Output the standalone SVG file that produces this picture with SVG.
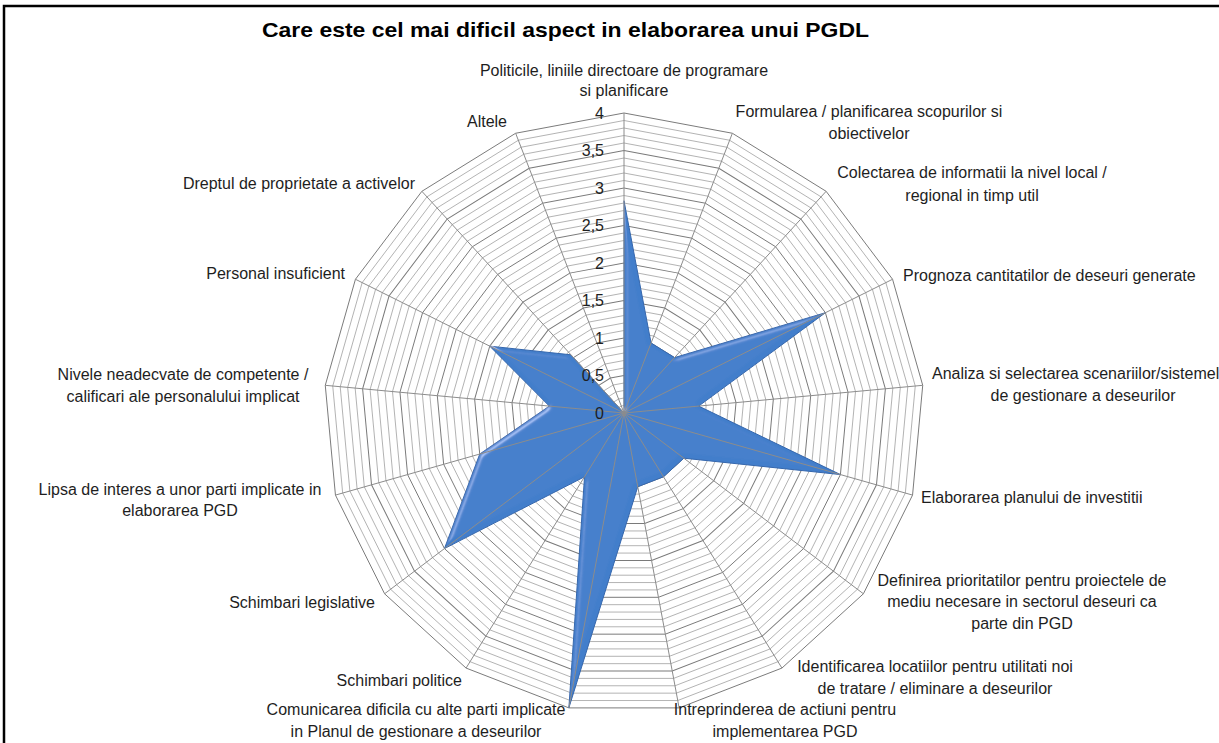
<svg xmlns="http://www.w3.org/2000/svg" xmlns:xlink="http://www.w3.org/1999/xlink" width="1219" height="743" viewBox="0 0 1219 743">
<style>
.lbl{font-family:"Liberation Sans",Arial,sans-serif;font-size:16px;fill:#1e1e1e}
.tick{font-family:"Liberation Sans",Arial,sans-serif;font-size:16px;fill:#1e1e1e;text-anchor:end}
.title{font-family:"Liberation Sans",Arial,sans-serif;font-size:21px;font-weight:bold;fill:#000}
.mid{text-anchor:middle}
.end{text-anchor:end}
.minor{fill:none;stroke:#a0a0a0}
.major{fill:none;stroke:#7a7a7a}
.spoke{stroke:#8c8c8c;stroke-width:1;fill:none}
</style>
<defs>
<polygon id="u" points="0,-1 0.36124,-0.93247 0.67370,-0.73901 0.89516,-0.44573 0.99573,-0.09227 0.96183,0.27366 0.79802,0.60263 0.52643,0.85022 0.18375,0.98297 -0.18375,0.98297 -0.52643,0.85022 -0.79802,0.60263 -0.96183,0.27366 -0.99573,-0.09227 -0.89516,-0.44573 -0.67370,-0.73901 -0.36124,-0.93247"/>
<filter id="bevel" x="-5%" y="-5%" width="110%" height="110%">
<feGaussianBlur in="SourceAlpha" stdDeviation="2.5" result="b"/>
<feSpecularLighting in="b" surfaceScale="3" specularConstant="0.7" specularExponent="40" lighting-color="#ffffff" result="s"><feDistantLight azimuth="225" elevation="40"/></feSpecularLighting>
<feComposite in="s" in2="SourceAlpha" operator="in" result="s2"/>
<feComposite in="SourceGraphic" in2="s2" operator="arithmetic" k1="0" k2="1" k3="0.45" k4="0"/>
</filter>
</defs>
<rect width="1219" height="743" fill="#fff"/>
<path d="M4,745 V6 H1219" fill="none" stroke="#000" stroke-width="2.5"/>
<text class="title" x="262" y="37" textLength="607" lengthAdjust="spacingAndGlyphs">Care este cel mai dificil aspect in elaborarea unui PGDL</text>
<g id="grid" transform="translate(624 413)">
<use xlink:href="#u" class="minor" stroke-width="0.10667" transform="scale(7.5)"/>
<use xlink:href="#u" class="minor" stroke-width="0.05333" transform="scale(15)"/>
<use xlink:href="#u" class="minor" stroke-width="0.03556" transform="scale(22.5)"/>
<use xlink:href="#u" class="minor" stroke-width="0.02667" transform="scale(30)"/>
<use xlink:href="#u" class="major" stroke-width="0.02667" transform="scale(37.5)"/>
<use xlink:href="#u" class="minor" stroke-width="0.01778" transform="scale(45)"/>
<use xlink:href="#u" class="minor" stroke-width="0.01524" transform="scale(52.5)"/>
<use xlink:href="#u" class="minor" stroke-width="0.01333" transform="scale(60)"/>
<use xlink:href="#u" class="minor" stroke-width="0.01185" transform="scale(67.5)"/>
<use xlink:href="#u" class="major" stroke-width="0.01333" transform="scale(75)"/>
<use xlink:href="#u" class="minor" stroke-width="0.00970" transform="scale(82.5)"/>
<use xlink:href="#u" class="minor" stroke-width="0.00889" transform="scale(90)"/>
<use xlink:href="#u" class="minor" stroke-width="0.00821" transform="scale(97.5)"/>
<use xlink:href="#u" class="minor" stroke-width="0.00762" transform="scale(105)"/>
<use xlink:href="#u" class="major" stroke-width="0.00889" transform="scale(112.5)"/>
<use xlink:href="#u" class="minor" stroke-width="0.00667" transform="scale(120)"/>
<use xlink:href="#u" class="minor" stroke-width="0.00627" transform="scale(127.5)"/>
<use xlink:href="#u" class="minor" stroke-width="0.00593" transform="scale(135)"/>
<use xlink:href="#u" class="minor" stroke-width="0.00561" transform="scale(142.5)"/>
<use xlink:href="#u" class="major" stroke-width="0.00667" transform="scale(150)"/>
<use xlink:href="#u" class="minor" stroke-width="0.00508" transform="scale(157.5)"/>
<use xlink:href="#u" class="minor" stroke-width="0.00485" transform="scale(165)"/>
<use xlink:href="#u" class="minor" stroke-width="0.00464" transform="scale(172.5)"/>
<use xlink:href="#u" class="minor" stroke-width="0.00444" transform="scale(180)"/>
<use xlink:href="#u" class="major" stroke-width="0.00533" transform="scale(187.5)"/>
<use xlink:href="#u" class="minor" stroke-width="0.00410" transform="scale(195)"/>
<use xlink:href="#u" class="minor" stroke-width="0.00395" transform="scale(202.5)"/>
<use xlink:href="#u" class="minor" stroke-width="0.00381" transform="scale(210)"/>
<use xlink:href="#u" class="minor" stroke-width="0.00368" transform="scale(217.5)"/>
<use xlink:href="#u" class="major" stroke-width="0.00444" transform="scale(225)"/>
<use xlink:href="#u" class="minor" stroke-width="0.00344" transform="scale(232.5)"/>
<use xlink:href="#u" class="minor" stroke-width="0.00333" transform="scale(240)"/>
<use xlink:href="#u" class="minor" stroke-width="0.00323" transform="scale(247.5)"/>
<use xlink:href="#u" class="minor" stroke-width="0.00314" transform="scale(255)"/>
<use xlink:href="#u" class="major" stroke-width="0.00381" transform="scale(262.5)"/>
<use xlink:href="#u" class="minor" stroke-width="0.00296" transform="scale(270)"/>
<use xlink:href="#u" class="minor" stroke-width="0.00288" transform="scale(277.5)"/>
<use xlink:href="#u" class="minor" stroke-width="0.00281" transform="scale(285)"/>
<use xlink:href="#u" class="minor" stroke-width="0.00274" transform="scale(292.5)"/>
<use xlink:href="#u" class="major" stroke-width="0.00333" transform="scale(300)"/>
</g>
<g id="series">
<polygon points="624,200.75 651.09,343.06 674.53,357.58 825.41,312.71 698.68,406.08 840.41,474.57 683.85,458.2 663.48,476.77 637.78,486.72 568.87,707.89 584.52,476.77 444.45,548.59 479.73,454.05 549.32,406.08 489.73,346.14 570.95,354.8 624,413" fill="#437ecb" stroke="#3567ad" stroke-width="1" stroke-linejoin="miter" filter="url(#bevel)"/>
</g>
<g id="connectors">
<path class="spoke" d="M624,413 L624,113 M624,413 L732.37,133.26 M624,413 L826.11,191.3 M624,413 L892.55,279.28 M624,413 L922.72,385.32 M624,413 L912.55,495.1 M624,413 L863.41,593.79 M624,413 L781.93,668.07 M624,413 L679.13,707.89 M624,413 L568.87,707.89 M624,413 L466.07,668.07 M624,413 L384.59,593.79 M624,413 L335.45,495.1 M624,413 L325.28,385.32 M624,413 L355.45,279.28 M624,413 L421.89,191.3 M624,413 L515.63,133.26"/>
</g>
<g id="ticks">
<text class="tick" x="604" y="418.5">0</text>
<text class="tick" x="604" y="381">0,5</text>
<text class="tick" x="604" y="343.5">1</text>
<text class="tick" x="604" y="306">1,5</text>
<text class="tick" x="604" y="268.5">2</text>
<text class="tick" x="604" y="231">2,5</text>
<text class="tick" x="604" y="193.5">3</text>
<text class="tick" x="604" y="156">3,5</text>
<text class="tick" x="604" y="118.5">4</text>
</g>
<g id="n1"><text class="lbl mid" x="624" y="75.5">Politicile, liniile directoare de programare</text><text class="lbl mid" x="624" y="95.5">si planificare</text></g>
<g id="n2"><text class="lbl mid" x="869" y="116.5">Formularea / planificarea scopurilor si</text><text class="lbl mid" x="869" y="138.5">obiectivelor</text></g>
<g id="n3"><text class="lbl mid" x="972" y="177.5">Colectarea de informatii la nivel local /</text><text class="lbl mid" x="972" y="200.5">regional in timp util</text></g>
<g id="n4"><text class="lbl" x="903" y="280.5">Prognoza cantitatilor de deseuri generate</text></g>
<g id="n5"><text class="lbl" x="932" y="378.5">Analiza si selectarea scenariilor/sistemel</text><text class="lbl mid" x="1083" y="400.5">de gestionare a deseurilor</text></g>
<g id="n6"><text class="lbl" x="921" y="502.5">Elaborarea planului de investitii</text></g>
<g id="n7"><text class="lbl mid" x="1022" y="585.5">Definirea prioritatilor pentru proiectele de</text><text class="lbl mid" x="1022" y="606.5">mediu necesare in sectorul deseuri ca</text><text class="lbl mid" x="1022" y="628.5">parte din PGD</text></g>
<g id="n8"><text class="lbl mid" x="935" y="671.5">Identificarea locatiilor pentru utilitati noi</text><text class="lbl mid" x="935" y="693.5">de tratare / eliminare a deseurilor</text></g>
<g id="n9"><text class="lbl mid" x="785" y="714.5">Intreprinderea de actiuni pentru</text><text class="lbl mid" x="785" y="736.5">implementarea PGD</text></g>
<g id="n10"><text class="lbl mid" x="416" y="714.5">Comunicarea dificila cu alte parti implicate</text><text class="lbl mid" x="416" y="736.5">in Planul de gestionare a deseurilor</text></g>
<g id="n11"><text class="lbl end" x="462" y="685.5">Schimbari politice</text></g>
<g id="n12"><text class="lbl end" x="375" y="607.5">Schimbari legislative</text></g>
<g id="n13"><text class="lbl mid" x="180" y="494.5">Lipsa de interes a unor parti implicate in</text><text class="lbl mid" x="180" y="515.5">elaborarea PGD</text></g>
<g id="n14"><text class="lbl mid" x="183" y="379.5">Nivele neadecvate de competente /</text><text class="lbl mid" x="183" y="401.5">calificari ale personalului implicat</text></g>
<g id="n15"><text class="lbl end" x="345" y="278.5">Personal insuficient</text></g>
<g id="n16"><text class="lbl end" x="415" y="188.5">Dreptul de proprietate a activelor</text></g>
<g id="n17"><text class="lbl end" x="507" y="126.5">Altele</text></g>
</svg>
